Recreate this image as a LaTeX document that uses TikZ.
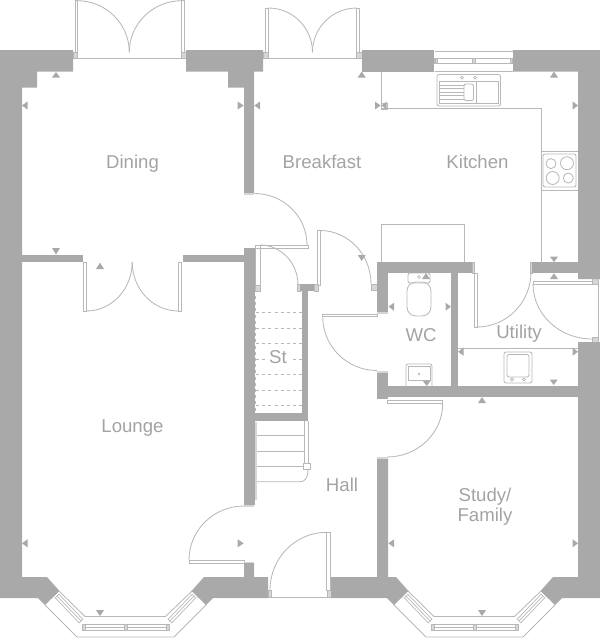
\documentclass[tikz,border=0pt]{standalone}
\usepackage{fontspec}
\setmainfont{Liberation Sans}
\definecolor{wallc}{HTML}{A9A9A9}
\definecolor{linec}{HTML}{B8B8B8}
\definecolor{capc}{HTML}{D6D6D6}
\definecolor{textc}{HTML}{A3A3A3}
\tikzset{
  wall/.style={fill=wallc,draw=none},
  ln/.style={draw=linec,line width=0.85pt},
  thin ln/.style={draw=linec,line width=0.7pt},
  jamb/.style={draw=linec,line width=0.7pt,fill=capc},
  mk/.style={fill=wallc,draw=none},
  dash ln/.style={draw=linec,line width=0.9pt,dash pattern=on 3pt off 3.2pt},
  lab/.style={text=textc,font=\fontsize{18.6}{20}\selectfont,anchor=base,inner sep=0pt,outer sep=0pt},
}
\newcommand\qarc[6]{\draw[ln] (#1,#2) .. controls ({#1+.5523*(#3-#1)},{#2+.5523*(#4-#2)}) and ({#5+.5523*(#3-#5)},{#6+.5523*(#4-#6)}) .. (#5,#6);}
\newcommand\mkv[3]{\fill[mk] ({#1-4},#2) -- ({#1+4},#2) -- (#1,#3) -- cycle;}
\newcommand\mkh[3]{\fill[mk] (#2,{#1-4}) -- (#2,{#1+4}) -- (#3,#1) -- cycle;}
\newcommand\baywin{%
  \draw[ln] (59,591) -- (85,616.5) -- (165.5,616.5) -- (192,591);
  \draw[ln] (45,605) -- (77,637) -- (174,637) -- (206,605);
  \draw[thin ln] (58.8,594.2) -- (82.8,619.2) -- (79.2,622.8) -- (55.2,597.8) -- cycle;
  \draw[thin ln] (57,596) -- (81,621);
  \draw[thin ln] (192.2,594.2) -- (168.2,619.2) -- (171.8,622.8) -- (195.8,597.8) -- cycle;
  \draw[thin ln] (194,596) -- (170,621);
  \draw[thin ln] (82,624) rectangle (169,630);
  \draw[thin ln] (85,627) -- (166,627);
  \draw[jamb] (82,624) rectangle (85.5,630);
  \draw[jamb] (124,624) rectangle (127.5,630);
  \draw[jamb] (166,624) rectangle (169,630);
}
\begin{document}
\begin{tikzpicture}[x=1pt,y=-1pt]
\useasboundingbox (0,0) rectangle (600,638);
% sills
\draw[ln] (73,58.7) -- (186,58.7);
\draw[ln] (263,58.7) -- (362,58.7);
\draw[ln] (268,597) -- (331,597);
\draw[ln] (598.5,279) -- (598.5,342);
% French doors: dining
\draw[ln] (75,0.7) rectangle (77.3,52.3);
\draw[ln] (181.7,0.7) rectangle (184,52.3);
\draw[jamb] (73,52.3) rectangle (77.3,58.7);
\draw[jamb] (181.7,52.3) rectangle (186,58.7);
\qarc{77.3}{0.7}{129.3}{0.7}{129.3}{52.3}
\qarc{181.7}{0.7}{129.3}{0.7}{129.3}{52.3}
% French doors: breakfast
\draw[ln] (265.7,8) rectangle (268.3,52.3);
\draw[ln] (356.7,8) rectangle (359.3,52.3);
\draw[jamb] (263,52.3) rectangle (268.3,58.7);
\draw[jamb] (356.7,52.3) rectangle (362,58.7);
\qarc{268.3}{8}{312.5}{8}{312.5}{52.3}
\qarc{356.7}{8}{312.5}{8}{312.5}{52.3}
% French doors: dining/lounge
\draw[ln] (83.3,262) rectangle (86.5,311);
\draw[ln] (178.5,262) rectangle (181.7,311);
\qarc{86.5}{311}{132.2}{311}{132.2}{262}
\qarc{178.5}{311}{132.2}{311}{132.2}{262}
% single doors
\qarc{254.5}{193.5}{307}{193.5}{307}{245}
\draw[ln] (255,245) rectangle (308,248);
\qarc{260}{245}{298}{245}{298}{285}
\draw[ln] (255,245) rectangle (260,285);
\draw[jamb] (255,285) rectangle (260,291);
\draw[jamb] (297,284) rectangle (300,291);
\draw[ln] (317,230.5) rectangle (320,285);
\draw[jamb] (314,284) rectangle (318,291);
\qarc{320}{230.5}{371}{230.5}{371}{284}
\draw[jamb] (371,284) rectangle (377,290);
\draw[ln] (322.7,314) rectangle (377,316.6);
\qarc{322.7}{316.6}{322.7}{370.5}{377}{370.5}
\draw[ln] (387,400) rectangle (442.7,403.5);
\qarc{442.7}{403.5}{442.7}{457}{387}{457}
\draw[ln] (474.5,273) rectangle (477,327);
\qarc{477}{327}{531}{327}{531}{272}
\draw[jamb] (472,262) rectangle (474.5,273);
\draw[jamb] (530,262) rectangle (532,273);
\draw[ln] (533,281) rectangle (592,284);
\qarc{533}{284}{533}{339}{592}{339}
\draw[jamb] (592,337) rectangle (598,342);
\draw[jamb] (592,278) rectangle (598,284);
\draw[ln] (189,560) rectangle (244,563);
\qarc{189}{560}{189}{506}{244}{506}
\draw[ln] (326.7,532.3) rectangle (330,590);
\qarc{326.7}{532.3}{270}{532.3}{270}{590}
\draw[jamb] (268,590) rectangle (271,597);
\draw[jamb] (327,590) rectangle (331,597);
% stairs under
\foreach \yy in {312.7,328.7,343.7,359,374.3,390,405}{\draw[dash ln] (256,\yy) -- (302,\yy);}
\draw[dash ln] (255.6,296) -- (255.6,412);
% stairs
\foreach \yy in {435.7,451,466.7}{\draw[ln] (256.7,\yy) -- (304,\yy);}
\draw[ln] (304,421) -- (304,463);
\draw[ln] (308,421) -- (308,463);
\draw[ln] (256.7,481.7) -- (300,481.7) .. controls (305,481.7) and (308,478) .. (308,469);
\draw[ln,fill=white] (303,463) rectangle (310,469);
\fill[capc] (254.5,421.5) rectangle (256.7,500);
% kitchen fittings
\draw[ln] (381,71.5) -- (381,108) -- (541,108) -- (541,262);
\draw[thin ln] (381,103.5) rectangle (387,109);
\draw[ln] (541,151) -- (578,151);
\draw[ln] (541,190) -- (578,190);
\draw[ln,rounded corners=2pt] (543,154) rectangle (576,187);
\draw[ln] (551,163.6) circle[radius=5];
\draw[ln] (567,163.2) circle[radius=6.5];
\draw[ln] (552.7,178) circle[radius=6.5];
\draw[ln] (568.3,178) circle[radius=5];
\draw[ln,rounded corners=2pt] (437,74.5) rectangle (500.5,106);
\draw[thin ln] (462,77.6) circle[radius=1.6];
\draw[thin ln] (475,77.6) circle[radius=1.6];
\draw[thin ln] (439.5,81.5) rectangle (498,103);
\foreach \yy in {85,88.5,92,95.5,99}{\draw[thin ln] (440,\yy) -- (464,\yy);}
\draw[ln,rounded corners=2pt] (464,84) rectangle (473.5,100.5);
\draw[thin ln] (476.5,81.5) -- (476.5,103);
% kitchen window
\draw[ln] (434.5,51) -- (512.5,51);
\draw[ln] (434.5,71) -- (512.5,71);
\draw[thin ln] (434.5,58.5) rectangle (512.5,63);
\draw[jamb] (435,58) rectangle (437,63.5);
\draw[jamb] (472,58) rectangle (475,63.5);
\draw[jamb] (510,58) rectangle (512.5,63.5);
\draw[ln] (381,224) rectangle (464,262);
% WC fittings
\draw[ln,rounded corners=2pt] (408,273) rectangle (430,283);
\draw[ln,rounded corners=9pt] (407,282) rectangle (431,316);
\draw[thin ln] (419,277) circle[radius=1.5];
\draw[ln,rounded corners=2pt] (406,386) -- (406,364) -- (432,364) -- (432,386);
\draw[thin ln] (408,366) -- (430,366) -- (430,380) -- (408,380) -- cycle;
\fill[wallc] (419,374) circle[radius=1.2];
% Utility fittings
\draw[ln] (458,348.3) -- (578,348.3);
\draw[ln,rounded corners=2pt] (504,352) rectangle (532,383);
\draw[ln,rounded corners=2pt] (507,354.5) rectangle (529,377);
\draw[thin ln] (512,379.5) circle[radius=1.7];
\draw[thin ln] (524,379.5) circle[radius=1.7];
% bays
\baywin
\begin{scope}[xshift=349pt]\baywin\end{scope}
% walls
\path[wall] (0,50) -- (73,50) -- (73,71.5) -- (37,71.5) -- (37,87.5) -- (22,87.5) -- (22,577) -- (47,577) -- (59.5,591) -- (45,605) -- (38,598) -- (0,598) -- cycle;
\path[wall] (186,50) -- (263,50) -- (263,71.5) -- (254,71.5) -- (254,193) -- (244,193) -- (244,87.5) -- (228,87.5) -- (228,71.5) -- (186,71.5) -- cycle;
\path[wall] (204,577) -- (244,577) -- (244,563) -- (254,563) -- (254,577) -- (268,577) -- (268,598) -- (213,598) -- (206,605) -- (191.5,591) -- cycle;
\path[wall] (244,248) rectangle (254.5,505);
\path[wall] (22,255) rectangle (83,262);
\path[wall] (183,255) rectangle (244,262);
\path[wall] (254,413) rectangle (308,421);
\path[wall] (302,285) rectangle (308,421);
\path[wall] (300,284) rectangle (314,291);
\path[wall] (362,50) rectangle (434,71.5);
\path[wall] (513,50) -- (600,50) -- (600,279) -- (578,279) -- (578,71.5) -- (513,71.5) -- cycle;
\path[wall] (578,342) -- (600,342) -- (600,598) -- (562,598) -- (555,605) -- (540.5,591) -- (553,577) -- (578,577) -- cycle;
\path[wall] (377,386) rectangle (578,397);
\path[wall] (377,371) rectangle (388,399);
\path[wall] (331,577) -- (377,577) -- (377,458) -- (388,458) -- (388,577) -- (396,577) -- (408.5,591) -- (394,605) -- (387,598) -- (331,598) -- cycle;
\path[wall] (377,262) rectangle (472,273);
\path[wall] (377,262) rectangle (388,312);
\path[wall] (451,273) rectangle (458,386);
\path[wall] (532,262) rectangle (578,273);
% wall caps
\fill[capc] (244,193) rectangle (254,194.5);
\fill[capc] (244,505) rectangle (254,506.5);
\fill[capc] (377,371) rectangle (388,372.5);
\fill[capc] (377,312) rectangle (388,313.5);
\fill[capc] (377,457) rectangle (388,458.5);
\fill[capc] (244,561.5) rectangle (254,563);
% markers
\mkv{56}{77.5}{72}
\mkh{105.5}{27.5}{22}
\mkh{105.5}{237.7}{243.7}
\mkh{105.5}{260}{254.3}
\mkv{56}{248}{254.5}
\mkv{100}{269}{262.7}
\mkv{361.7}{77.5}{71.5}
\mkv{554}{77.5}{71.5}
\mkh{105.5}{375}{380.5}
\mkh{105.5}{386.7}{381.5}
\mkh{105.5}{572.7}{578}
\mkv{554}{256.7}{262}
\mkv{554}{279}{273.3}
\mkv{426}{279}{273}
\mkh{306.7}{394}{388.5}
\mkh{306.7}{445.5}{451}
\mkv{426.7}{380.7}{386}
\mkv{553.7}{379.5}{385}
\mkv{482}{403}{397}
\mkh{351.7}{463.5}{458}
\mkh{351.7}{572.7}{578}
\mkh{543.3}{394}{388.3}
\mkh{543.3}{572.7}{578}
\mkv{482}{610}{616}
\mkh{543.3}{27.5}{22}
\mkh{543.3}{237.7}{243.7}
\mkv{100}{610}{616}
\mkv{361.7}{255}{261}
% labels
\node[lab] (dining) at (132.5,168.3) {Dining};
\node[lab] (breakfast) at (322,168.3) {Breakfast};
\node[lab] (kitchen) at (477.5,168.3) {Kitchen};
\node[lab] (lounge) at (132.5,432.3) {Lounge};
\node[lab,fill=white,inner xsep=3pt] (st) at (278,363) {St};
\node[lab] (wc) at (421,341.7) {WC};
\node[lab] (utility) at (519,338.3) {Utility};
\node[lab] (hall) at (342,491) {Hall};
\node[lab] (study) at (485,501.7) {Study/};
\node[lab] (family) at (485,521) {Family};
\end{tikzpicture}
\end{document}
